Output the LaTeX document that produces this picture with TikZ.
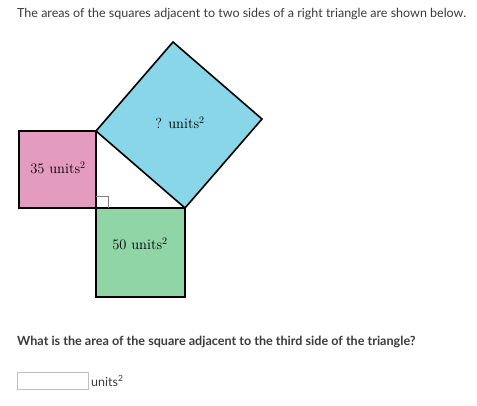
\documentclass[tikz,border=0pt]{standalone}
\usepackage{fontspec}
\newfontfamily\lato{Lato}
\definecolor{txt}{HTML}{3B3B3B}
\definecolor{pinkf}{HTML}{E49BC0}
\definecolor{bluef}{HTML}{88D6E7}
\definecolor{greenf}{HTML}{90D5A5}
\begin{document}
\begin{tikzpicture}[x=1pt,y=-1pt,
  sq/.style={draw=black,line width=1.6pt,line join=miter},
  lbl/.style={font=\fontsize{14.5}{17}\selectfont,text=black},
  ui/.style={font=\lato\fontsize{12.5}{15}\selectfont,text=txt,inner sep=0pt}]
\useasboundingbox (0,0) rectangle (477,405);
\fill[white] (0,0) rectangle (477,405);
% vertices
\coordinate (C) at (96,208);
\coordinate (A) at (96,131);
\coordinate (B) at (185,208);
\coordinate (D) at (262,119);
\coordinate (E) at (173,42);
% squares
\filldraw[sq,fill=pinkf] (19,131) rectangle (C);
\filldraw[sq,fill=greenf] (C) rectangle (185,297);
\filldraw[sq,fill=bluef] (A) -- (B) -- (D) -- (E) -- cycle;
% triangle
\draw[sq] (A) -- (C) -- (B);
% right angle mark
\draw[gray,line width=0.8pt] (96,196) -- (108,196) -- (108,208);
% labels
\node[lbl] (l35) at (58,168) {35 units$^2$};
\node[lbl] (l50) at (140,244) {50 units$^2$};
\node[lbl] (lq) at (180,123) {? units$^2$};
% texts
\node[ui,anchor=west] (title) at (17,14) {The areas of the squares adjacent to two sides of a right triangle are shown below.};
\node[ui,anchor=west,font=\lato\bfseries\fontsize{12.6}{15}\selectfont] (q) at (17,342) {What is the area of the square adjacent to the third side of the triangle?};
\draw[black!25,line width=0.8pt] (17,372) rectangle (88,389);
\node[ui,anchor=west] (u) at (91,381) {units\raisebox{0.9ex}{\fontsize{8.5}{10}\selectfont 2}};
\end{tikzpicture}
\end{document}
